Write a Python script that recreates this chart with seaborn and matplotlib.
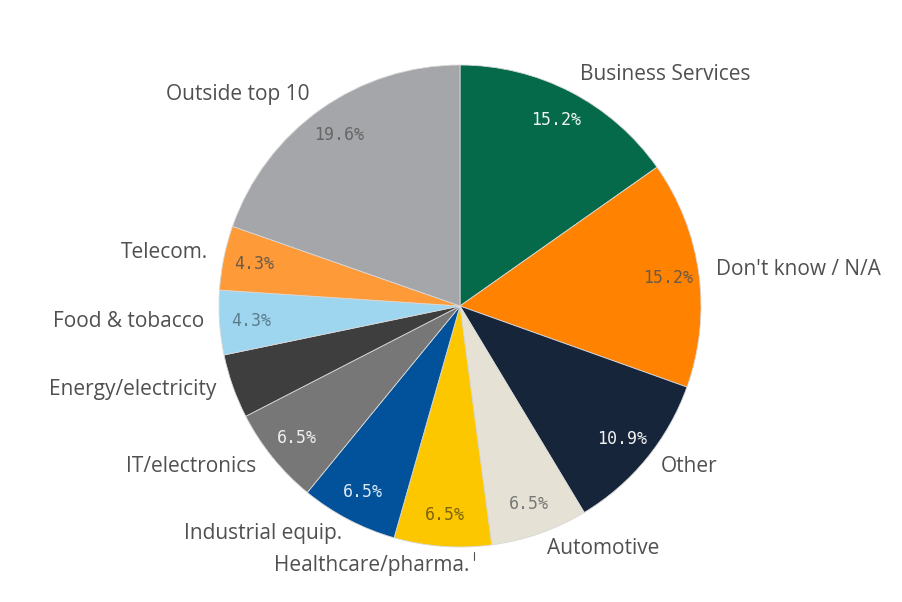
import matplotlib
matplotlib.use("Agg")
import matplotlib.pyplot as plt
import numpy as np
import seaborn as sns

# Sector breakdown (share of respondents, %)
sectors = [
    "Business Services", "Don't know / N/A", "Other", "Automotive",
    "Healthcare/pharma.", "Industrial equip.", "IT/electronics",
    "Energy/electricity", "Food & tobacco", "Telecom.", "Outside top 10",
]
shares = [15.2, 15.2, 10.9, 6.5, 6.5, 6.5, 6.5, 4.3, 4.3, 4.3, 19.6]
show_pct = [True, True, True, True, True, True, True, False, True, True, True]

slice_colors = [
    "#056a4a", "#ff8200", "#16253a", "#e5e1d4", "#fdc700", "#01529b",
    "#777777", "#3e3e3e", "#9ed5ef", "#ff9a38", "#a5a6aa",
]
pct_colors = [
    "#eef5f0", "#6a5a4a", "#f2f2f2", "#777777", "#7a6410", "#dfe9f5",
    "#f0f0f0", "#f0f0f0", "#5d7d8c", "#6a5a4a", "#666666",
]

# Label anchor (x, y in pixels) and horizontal alignment for each sector name
label_pos = [
    (580, 527, "left"), (716, 332, "left"), (661, 135, "left"),
    (547, 54, "left"), (469, 36, "right"), (342, 69, "right"),
    (256, 135, "right"), (216, 212, "right"), (204, 280, "right"),
    (208, 349, "right"), (310, 507, "right"),
]

sns.set_theme(style="white")
palette = sns.color_palette(slice_colors)

W, H = 903, 602
fig = plt.figure(figsize=(W / 100, H / 100), dpi=100)
ax = fig.add_axes([0, 0, 1, 1])

cx, cy, R = 460, 296, 241

wedges, _ = ax.pie(
    shares,
    colors=palette,
    startangle=90,
    counterclock=False,
    center=(cx, cy),
    radius=R,
    wedgeprops=dict(linewidth=0.6, edgecolor="#d8d8d8"),
    frame=True,
)
ax.set_xlim(0, W)
ax.set_ylim(0, H)
ax.set_aspect("equal")
ax.axis("off")

for i, (v, w) in enumerate(zip(shares, wedges)):
    mid = np.deg2rad((w.theta1 + w.theta2) / 2)
    if show_pct[i]:
        r = 0.87 * R
        ax.text(cx + r * np.cos(mid), cy + r * np.sin(mid), f"{v:.1f}%",
                ha="center", va="center", fontsize=12,
                family="DejaVu Sans Mono", color=pct_colors[i])
    x, y, ha = label_pos[i]
    ax.text(x, y, sectors[i], ha=ha, va="center", fontsize=15,
            family="Open Sans", color="#505050")

# small tick next to the healthcare label
ax.plot([474, 474], [42, 50], color="#505050", lw=0.8)

fig.savefig("out.png", dpi=100, facecolor="white")
